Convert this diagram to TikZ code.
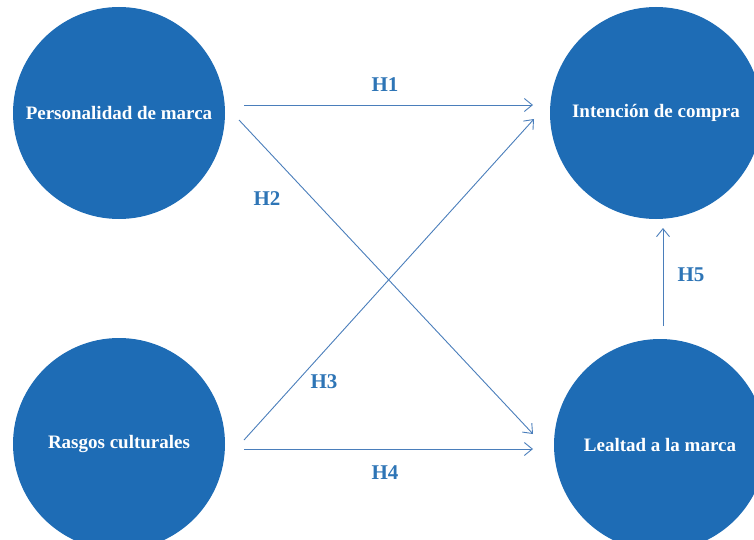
\documentclass[tikz,border=0pt]{standalone}
\usepackage{fontspec}
\setmainfont{Liberation Serif}
\usetikzlibrary{arrows.meta}
\definecolor{circblue}{RGB}{30,108,181}
\definecolor{hblue}{RGB}{46,117,182}
\definecolor{lineblue}{RGB}{74,126,187}
\begin{document}
\begin{tikzpicture}[x=1pt,y=-1pt,
  construct/.style={circle,fill=circblue,minimum size=212pt,inner sep=0pt,
    text=white,font=\fontsize{19}{22}\selectfont\bfseries},
  hyp/.style={text=hblue,font=\fontsize{21}{24}\selectfont\bfseries,inner sep=0pt},
  link/.style={draw=lineblue,line width=0.9pt,-{Straight Barb[length=8pt,width=13pt,line width=0.9pt]}}]
\useasboundingbox (0,0) rectangle (754,540);
\clip (0,0) rectangle (754,540);
\node[construct] (pm) at (119,113) {Personalidad de marca};
\node[construct] (ic) at (656,113) {Intención de compra};
\node[construct] (rc) at (119,444) {Rasgos culturales};
\node[construct] (lm) at (660,445) {Lealtad a la marca};
\coordinate (h1s) at (244,105);
\coordinate (h1e) at (533,105);
\coordinate (h2s) at (239,120);
\coordinate (h2e) at (533,434);
\coordinate (h3s) at (244,440);
\coordinate (h3e) at (534,119);
\coordinate (h4s) at (244,449);
\coordinate (h4e) at (533,449);
\coordinate (h5s) at (663,326);
\coordinate (h5e) at (663,228);
\draw[link] (h1s) -- (h1e);
\draw[link] (h2s) -- (h2e);
\draw[link] (h3s) -- (h3e);
\draw[link] (h4s) -- (h4e);
\draw[link] (h5s) -- (h5e);
\node[hyp] (l1) at (385,85) {H1};
\node[hyp] (l2) at (267,199) {H2};
\node[hyp] (l3) at (324,382) {H3};
\node[hyp] (l4) at (385,473) {H4};
\node[hyp] (l5) at (691,275) {H5};
\end{tikzpicture}
\end{document}
